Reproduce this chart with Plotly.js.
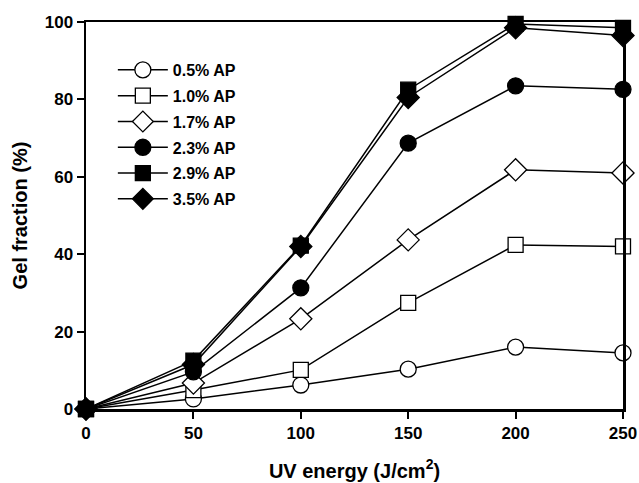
<!DOCTYPE html>
<html><head><meta charset="utf-8">
<script src="https://cdn.plot.ly/plotly-3.0.1.min.js"></script>
<style>html,body{margin:0;padding:0;background:#fff}#c{width:639px;height:483px}</style>
</head><body><div id="c"></div>
<script>
const uvEnergy = [0, 50, 100, 150, 200, 250];
const seriesNames = ["0.5% AP", "1.0% AP", "1.7% AP", "2.3% AP", "2.9% AP", "3.5% AP"];
const ap05 = [0, 2.6, 6.2, 10.3, 16.0, 14.5];
const ap10 = [0, 4.9, 10.1, 27.4, 42.4, 42.0];
const ap17 = [0, 6.7, 23.3, 43.7, 61.8, 61.0];
const ap23 = [0, 9.6, 31.3, 68.7, 83.5, 82.6];
const ap29 = [0, 12.5, 42.2, 82.5, 99.5, 98.5];
const ap35 = [0, 11.5, 42.0, 80.5, 98.5, 96.5];
const xTicks = [0, 50, 100, 150, 200, 250];
const yTicks = [0, 20, 40, 60, 80, 100];

const values = [ap05, ap10, ap17, ap23, ap29, ap35];
const symbols = ["circle", "square", "diamond", "circle", "square", "diamond"];
const fills = ["white", "white", "white", "black", "black", "black"];
const sizes = [16, 15, 17, 16, 15, 17];

const traces = values.map((v, i) => ({
  x: uvEnergy, y: v, name: seriesNames[i], type: "scatter", mode: "lines+markers",
  legendgroup: "g" + i,
  cliponaxis: false,
  line: {color: "black", width: 1.5},
  marker: {symbol: symbols[i], size: sizes[i], color: fills[i], line: {color: "black", width: 1.3}}
}));

const font = {family: "Liberation Sans, Arial, sans-serif", size: 17, color: "black", weight: "bold"};
const layout = {
  width: 639, height: 483,
  margin: {l: 86, r: 16, t: 22, b: 74},
  paper_bgcolor: "white", plot_bgcolor: "white",
  font: font,
  showlegend: true,
  legend: {x: 0.05, y: 0.92, xanchor: "left", yanchor: "top", bgcolor: "rgba(0,0,0,0)",
           font: {...font, size: 16}, traceorder: "grouped", tracegroupgap: 2, itemwidth: 50},
  xaxis: {range: [0, 250], tickvals: xTicks, ticktext: xTicks.map(String),
          showline: true, linecolor: "black", linewidth: 2.5, mirror: true,
          ticks: "outside", ticklen: 7, tickwidth: 2, tickcolor: "black",
          showgrid: false, zeroline: false, tickfont: font,
          title: {text: "UV energy (J/cm<sup>2</sup>)", font: {...font, size: 20}, standoff: 22}},
  yaxis: {range: [0, 100], tickvals: yTicks, ticktext: yTicks.map(String),
          showline: true, linecolor: "black", linewidth: 2.5, mirror: true,
          ticks: "outside", ticklen: 7, tickwidth: 2, tickcolor: "black",
          showgrid: false, zeroline: false, tickfont: font,
          title: {text: "Gel fraction (%)", font: {...font, size: 20}, standoff: 12}}
};
Plotly.newPlot("c", traces, layout, {staticPlot: true, displayModeBar: false});
</script></body></html>
